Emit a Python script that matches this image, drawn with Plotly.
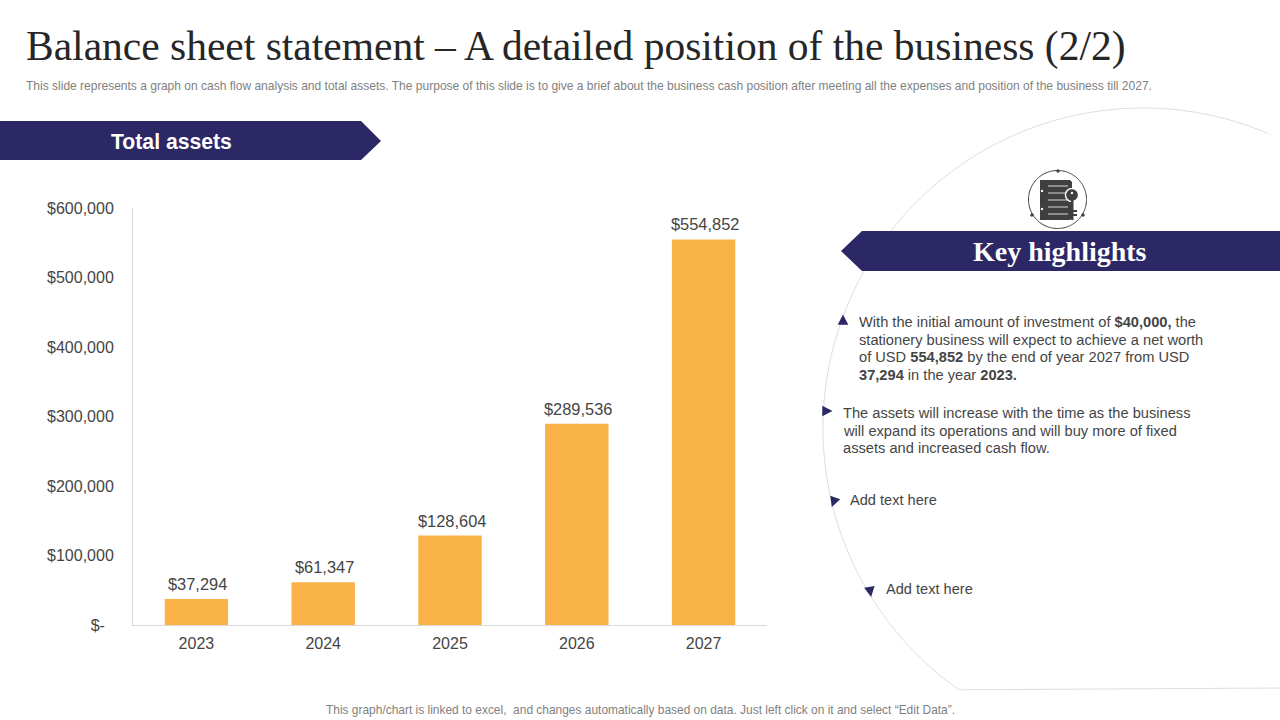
import numpy as np
import plotly.graph_objects as go

W, H = 1280, 720
NAVY = "#2C2765"
TEXT = "#454545"

# ---- chart data ----
years = ["2023", "2024", "2025", "2026", "2027"]
total_assets = [37294, 61347, 128604, 289536, 554852]
bar_labels = ["$37,294", "$61,347", "$128,604", "$289,536", "$554,852"]
tick_values = [0, 100000, 200000, 300000, 400000, 500000, 600000]
tick_labels = ["$-\u00a0\u00a0", "$100,000", "$200,000", "$300,000", "$400,000", "$500,000", "$600,000"]

title = "Balance sheet statement – A detailed position of the business (2/2)"
subtitle = ("This slide represents a graph on cash flow analysis and total assets. The purpose of this slide is to give "
            "a brief about the business cash position after meeting all the expenses and position of the business till 2027.")
footer = "This graph/chart is linked to excel,  and changes automatically based on data. Just left click on it and select “Edit Data”."
bullet_one = ["With the initial amount of investment of <b>$40,000,</b> the",
              "stationery business will expect to achieve a net worth",
              "of USD <b>554,852</b> by the end of year 2027 from USD",
              "<b>37,294</b> in the year <b>2023.</b>"]
bullet_two = ["The assets will increase with the time as the business",
              "will expand its operations and will buy more of fixed",
              "assets and increased cash flow."]


def px(x):
    return x / W


def py(y):
    return 1 - y / H


def path(points, close=True):
    s = "M " + " L ".join(f"{px(x):.5f},{py(y):.5f}" for x, y in points)
    return s + (" Z" if close else "")


def poly(points, color):
    return dict(type="path", xref="paper", yref="paper", path=path(points), fillcolor=color, line=dict(width=0), layer="above")


def text(x, y, s, size, color=TEXT, family="Liberation Sans", anchor="left"):
    return dict(x=px(x), y=py(y), xref="paper", yref="paper", text=s, showarrow=False, xanchor=anchor, yanchor="middle",
                font=dict(size=size, color=color, family=family), align=anchor)


def tri(cx, cy, r, deg):
    a = np.radians(deg + np.array([0, 125, 235]))
    return poly(list(zip(cx + r * np.cos(a), cy + r * np.sin(a))), NAVY)


def ring(cx, cy, r, a0, a1, n=160):
    a = np.radians(np.linspace(a0, a1, n))
    return list(zip(cx + r * np.cos(a), cy + r * np.sin(a)))


fig = go.Figure(go.Bar(x=years, y=total_assets, width=0.5, marker=dict(color="#F9B248", line=dict(width=0)), cliponaxis=False))

# Large circle outline (centre 1143,428; r 320) and its bottom rule
shapes = [
    dict(type="path", xref="paper", yref="paper", line=dict(color="#DEDEE2", width=1),
         path=path(ring(1143, 428, 320, 293, 125.1, 240) + [(1280, 688)], close=False)),
    # Ribbons
    poly([(0, 121), (361, 121), (381, 141), (361, 160), (0, 160)], NAVY),
    poly([(1280, 231), (862, 231), (841, 251), (862, 271), (1280, 271)], NAVY),
    # Bullet markers
    tri(843, 321, 6.5, -90),
    tri(826, 411, 6.5, 0),
    tri(834, 501, 6.5, 110),
    tri(870, 590.5, 6.5, 80),
    # Icon: ring
    dict(type="path", xref="paper", yref="paper", path=path(ring(1057.5, 199.5, 29, 0, 360), close=True),
         line=dict(color="#3F3F3F", width=1), fillcolor="rgba(0,0,0,0)"),
    # Icon: notebook
    poly([(1040, 180), (1070, 180), (1072, 182), (1072, 218), (1070, 220), (1040, 220)], "#3F3F3F"),
]
# Icon: ring dots
for dx, dy in [(1058, 171), (1032, 215), (1083, 215)]:
    shapes.append(poly(ring(dx, dy, 1.7, 0, 360, 16), "#3F3F3F"))
# Icon: page lines
for ly in [186, 193, 200, 207, 214]:
    shapes.append(dict(type="line", xref="paper", yref="paper", x0=px(1048), x1=px(1068), y0=py(ly), y1=py(ly),
                       line=dict(color="#D8D8D8", width=1), layer="above"))
# Icon: binding holes and key
for hy in [191, 209]:
    shapes.append(poly(ring(1042, hy, 1.2, 0, 360, 12), "#FFFFFF"))
shapes += [
    poly(ring(1072, 195, 7.2, 0, 360, 30), "#FFFFFF"),
    poly(ring(1072, 195, 5.8, 0, 360, 30), "#3F3F3F"),
    poly(ring(1072, 193, 1.2, 0, 360, 12), "#FFFFFF"),
    poly([(1073, 201), (1075, 201), (1075, 218), (1073, 218)], "#FFFFFF"),
    poly([(1071, 200), (1073.5, 200), (1073.5, 220), (1071, 220)], "#3F3F3F"),
    poly([(1073, 210), (1077, 210), (1077, 212), (1073, 212)], "#3F3F3F"),
    poly([(1073, 214), (1077, 214), (1077, 216), (1073, 216)], "#3F3F3F"),
]

annotations = [
    text(24, 46, title, 41.5, "#262626", "Liberation Serif"),
    text(24, 86, subtitle, 12.03, "#7F7F7F"),
    text(640, 710, footer, 11.95, "#7F7F7F", anchor="center"),
    text(171, 142, "<b>Total assets</b>", 21.2, "#FFFFFF", anchor="center"),
    text(1060, 251, "<b>Key highlights</b>", 28, "#FFFFFF", "Liberation Serif", "center"),
    text(847.5, 500, "Add text here", 14.6, TEXT),
    text(883.5, 589, "Add text here", 14.6, TEXT),
]
for i, line in enumerate(bullet_one):
    annotations.append(text(857, 322 + i * 17.6, line, 14.65, TEXT))
for i, line in enumerate(bullet_two):
    annotations.append(text(841, 413 + i * 17.6, line, 14.65, TEXT))
# Bar value labels, anchored on the data through the axes
for i, (value, label) in enumerate(zip(total_assets, bar_labels)):
    annotations.append(dict(x=i, y=value, xref="x", yref="y", text=label, showarrow=False, xanchor="center",
                            yanchor="middle", xshift=1.5, yshift=15,
                            font=dict(size=16.4, color=TEXT, family="Liberation Sans")))

fig.update_layout(
    width=W, height=H, autosize=False, margin=dict(l=0, r=0, t=0, b=0),
    paper_bgcolor="white", plot_bgcolor="white", showlegend=False,
    shapes=shapes, annotations=annotations,
    font=dict(family="Liberation Sans", color=TEXT, size=16),
    xaxis=dict(domain=[px(133), px(767)], type="category", categoryorder="array", categoryarray=years, range=[-0.5, 4.5],
               showgrid=False, showline=True, linecolor="#D9D9D9", linewidth=1,
               ticks="", tickfont=dict(size=16, color=TEXT), ticklabelstandoff=4, zeroline=False, fixedrange=True, automargin=False),
    yaxis=dict(domain=[py(625), py(208)], range=[0, 600000], tickvals=tick_values, ticktext=tick_labels,
               showgrid=False, showline=True, linecolor="#D9D9D9", linewidth=1, ticks="",
               tickfont=dict(size=16, color=TEXT), ticklabelstandoff=15, zeroline=False, fixedrange=True, automargin=False),
)

fig.write_html("out.html", config={"displayModeBar": False},
               post_script="document.body.style.margin='0';document.documentElement.style.overflow='hidden';")
